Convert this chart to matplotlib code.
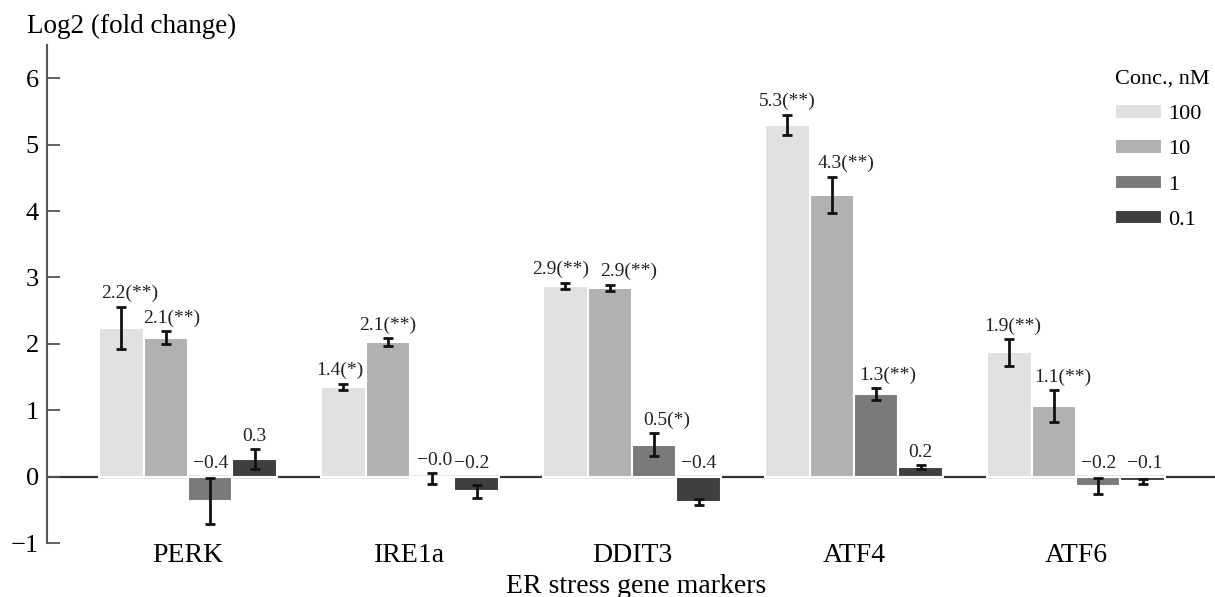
import numpy as np
import matplotlib
matplotlib.use('Agg')
import matplotlib.pyplot as plt

plt.rcParams['font.family'] = ['Liberation Serif', 'DejaVu Serif']

genes = ["PERK", "IRE1a", "DDIT3", "ATF4", "ATF6"]
conc = ["100", "10", "1", "0.1"]
colors = ["#e0e1e1", "#b0b1b1", "#7a7a7a", "#3f3f3f"]

# log2 fold change per concentration (rows) and gene (cols)
vals = [
    [2.24, 1.35, 2.87, 5.30, 1.87],
    [2.09, 2.02, 2.84, 4.24, 1.06],
    [-0.37, -0.03, 0.48, 1.24, -0.14],
    [0.26, -0.22, -0.38, 0.14, -0.07],
]
errs = [
    [0.32, 0.05, 0.05, 0.15, 0.20],
    [0.10, 0.06, 0.05, 0.27, 0.24],
    [0.35, 0.08, 0.17, 0.09, 0.12],
    [0.15, 0.10, 0.05, 0.03, 0.04],
]
labels = [
    ["2.2(**)", "1.4(*)", "2.9(**)", "5.3(**)", "1.9(**)"],
    ["2.1(**)", "2.1(**)", "2.9(**)", "4.3(**)", "1.1(**)"],
    ["\u22120.4", "\u22120.0", "0.5(*)", "1.3(**)", "\u22120.2"],
    ["0.3", "\u22120.2", "\u22120.4", "0.2", "\u22120.1"],
]

# horizontal nudges of the value labels (pixels at 100 dpi)
nudge_px = [
    [8, -4, -5, 0, 3],
    [6, 0, 19, 14, 9],
    [0, 2, 13, 12, 0],
    [0, -5, 0, 0, 2],
]

fig = plt.figure(figsize=(12.15, 5.97), dpi=100)
ax = fig.add_axes([47/1215, 54/597, 1 - 47/1215, 498/597])

x = np.arange(len(genes))
w = 0.2
px = 5.261 / 1168  # data units per pixel along x
for i in range(4):
    xs = x + (i - 1.5) * w
    v = np.array(vals[i])
    e = np.array(errs[i])
    ax.bar(xs, v, w, color=colors[i], edgecolor='white', linewidth=1.5,
           label=conc[i], zorder=2)
    ax.errorbar(xs, v, yerr=e, fmt='none', ecolor='#111111', elinewidth=2,
                capsize=3.5, capthick=2, zorder=3)
    for j in range(len(genes)):
        top = max(v[j] + e[j], 0)
        ax.text(xs[j] + nudge_px[i][j] * px, top + 0.07, labels[i][j],
                ha='center', va='bottom', fontsize=14, color='#222222', zorder=4)

ax.axhline(0, color='#333333', lw=1.6, zorder=1)
ax.set_xlim(-0.635, 4.626)
ax.set_ylim(-1, 6.5)
ax.set_yticks(range(-1, 7))
ax.set_yticklabels(["\u22121"] + [str(t) for t in range(0, 7)])
ax.set_xticks(x)
ax.set_xticklabels(genes)
ax.tick_params(axis='y', direction='in', length=9, width=1.3, color='#555555',
               labelsize=19, pad=6)
ax.tick_params(axis='x', length=0, labelsize=20, pad=0)
for s in ['top', 'right', 'bottom']:
    ax.spines[s].set_visible(False)
ax.spines['left'].set_color('#555555')
ax.spines['left'].set_linewidth(1.5)

fig.text(27/1215, 1 - 33/597, "Log2 (fold change)", fontsize=19.5, va='baseline')
fig.text(636/1215, 1 - 593/597, "ER stress gene markers", fontsize=20,
         ha='center', va='baseline')

leg = ax.legend(title="Conc., nM", loc='upper right',
                bbox_to_anchor=((1210 - 47) / 1168, (543 - 70) / 498),
                frameon=False, fontsize=16, title_fontsize=16,
                handlelength=2.1, handleheight=0.63, labelspacing=0.68,
                handletextpad=0.27, borderaxespad=0, borderpad=0)
leg._legend_box.align = 'left'

fig.savefig('out.png', dpi=100)
